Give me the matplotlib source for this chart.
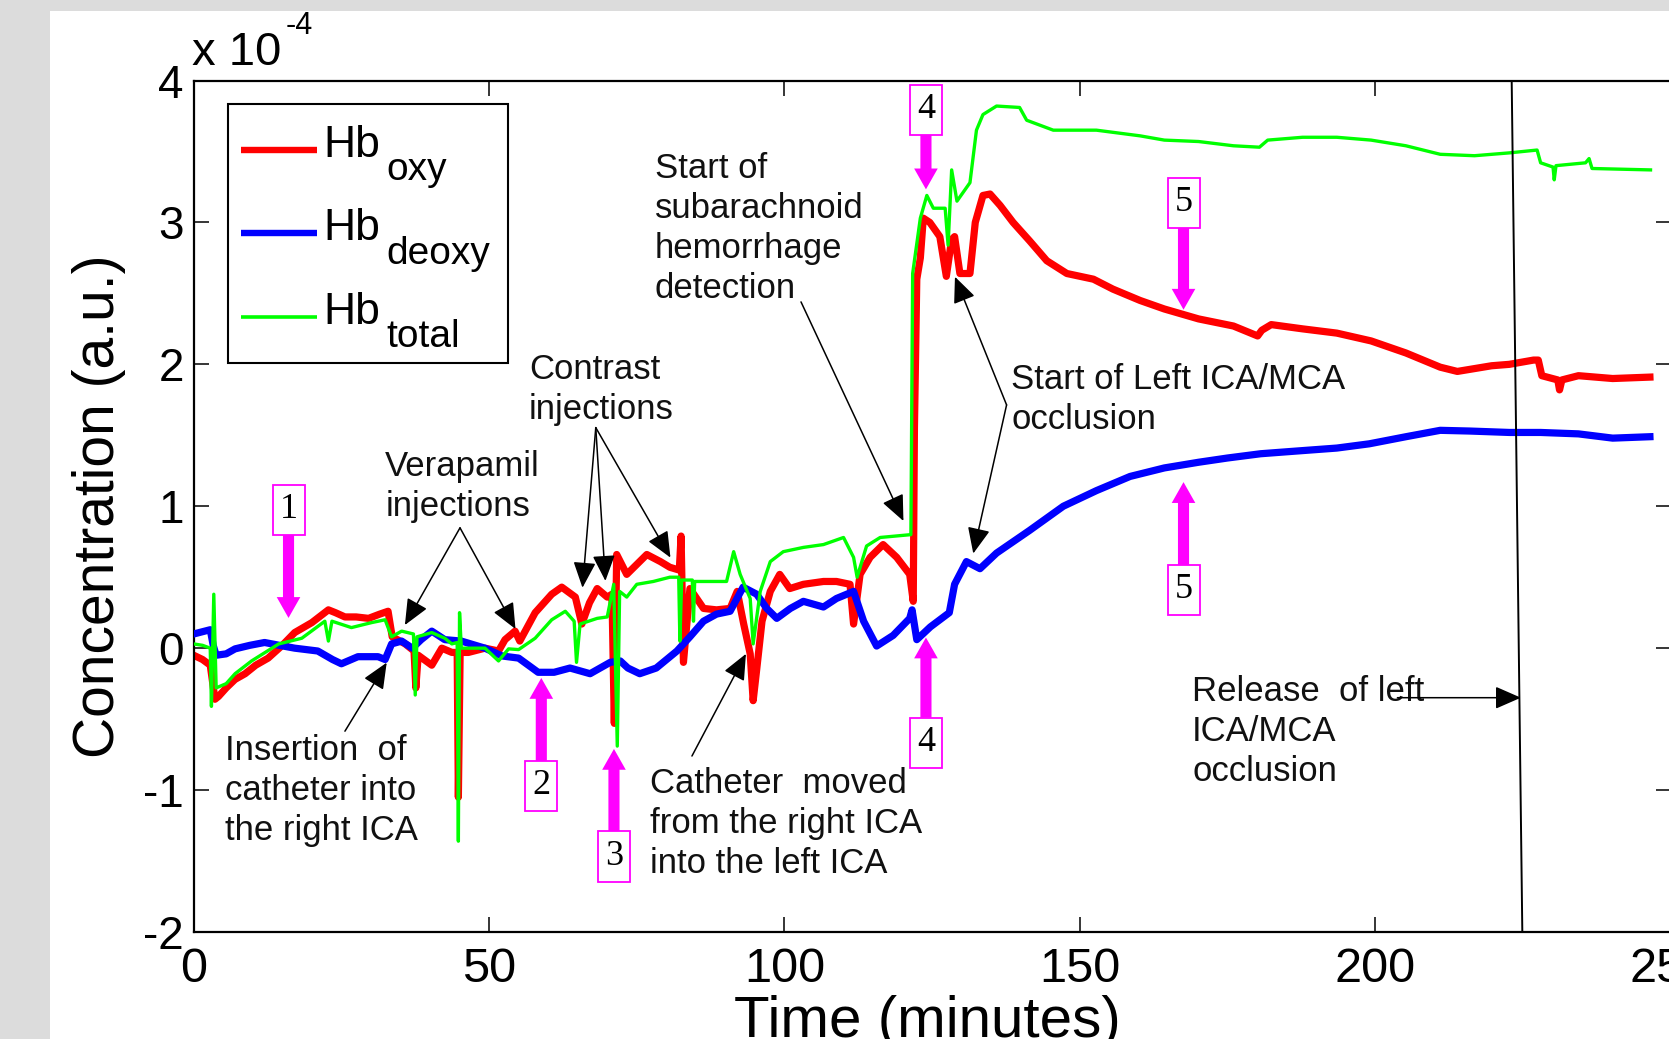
import matplotlib
matplotlib.use("Agg")
import matplotlib.pyplot as plt
import matplotlib.transforms as mtransforms
from matplotlib.patches import Rectangle
from matplotlib.lines import Line2D

plt.rcParams['font.family'] = ['Liberation Sans', 'DejaVu Sans']
plt.rcParams['axes.unicode_minus'] = False

# ---------------- data (values in units of 1e-4) ----------------
t_oxy = [0, 1.5, 2.8, 3.6, 4.2, 5.5, 7, 8.7, 10.5, 12.6, 15, 17.1, 20, 22.8, 24, 25.6,
         27.5, 29.6, 31.5, 32.9, 33.6, 35.8, 37.3, 37.6, 38, 40.3, 42, 43.7, 44.6, 44.8,
         45.1, 46.5, 49.3, 51.6, 52.7, 54.4, 55.2, 57.8, 60.6, 62.3, 64.6, 65.7, 67, 68.3,
         70, 70.8, 71.2, 71.6, 73.3, 75, 76.7, 79, 80.6, 82.2, 82.5, 82.9, 84, 86.3, 88.5,
         90.8, 92, 93.1, 94.2, 94.7, 95.3, 96.2, 97.6, 99.2, 100.9, 103.2, 106.6, 108.8,
         111.1, 111.7, 112.8, 114.5, 116.7, 119, 121.2, 121.8, 122.0, 122.4, 123, 123.5,
         124.6, 126.3, 127.4, 128.3, 128.8, 129.7, 131.4, 132.3, 133.6, 134.8, 136.5,
         138.7, 141.5, 144.4, 147.8, 152.3, 155.6, 160.2, 164.3, 170.1, 176, 180.1, 180.8,
         182.4, 187.7, 193.5, 199.3, 205.2, 211, 213.9, 219.7, 222.7, 226.8, 227.6, 228.2,
         230.9, 231.2, 231.6, 234.4, 240.2, 246.5]
hb_oxy = [-0.05, -0.08, -0.12, -0.36, -0.34, -0.28, -0.22, -0.18, -0.12, -0.07, 0.02, 0.11,
          0.18, 0.27, 0.25, 0.22, 0.22, 0.21, 0.24, 0.26, 0.08, 0.03, -0.02, -0.28, -0.05,
          -0.12, 0.0, -0.03, -0.03, -1.05, -0.03, -0.03, 0.0, -0.02, 0.06, 0.12, 0.05, 0.25,
          0.38, 0.43, 0.36, 0.17, 0.32, 0.42, 0.36, 0.38, -0.53, 0.66, 0.52, 0.59, 0.66, 0.61,
          0.57, 0.55, 0.79, -0.1, 0.42, 0.28, 0.27, 0.28, 0.40, 0.17, -0.04, -0.37, -0.15,
          0.19, 0.40, 0.52, 0.42, 0.45, 0.47, 0.47, 0.45, 0.17, 0.52, 0.64, 0.73, 0.64, 0.52,
          0.33, 1.55, 2.6, 2.75, 3.03, 3.0, 2.9, 2.62, 2.88, 2.9, 2.64, 2.64, 3.0, 3.19, 3.2,
          3.12, 3.0, 2.87, 2.73, 2.64, 2.6, 2.53, 2.45, 2.39, 2.32, 2.27, 2.20, 2.24, 2.28,
          2.25, 2.22, 2.165, 2.08, 1.98, 1.95, 1.99, 2.0, 2.03, 2.03, 1.92, 1.89, 1.82, 1.89,
          1.92, 1.90, 1.91]

t_deoxy = [0, 2.8, 3.3, 3.8, 5.5, 7, 9.5, 12, 14.5, 17.1, 21, 23.5, 25, 27.8, 31.2, 32.4,
           33.5, 35.2, 37, 38.5, 40.3, 42.5, 45.3, 49.3, 52.2, 55, 58.3, 61, 63.7, 67.1,
           70.5, 72.2, 73.5, 75.5, 78.3, 81.8, 84, 86.3, 88.5, 90.8, 93, 95.3, 97, 98.7,
           101, 103.2, 106.6, 108.8, 111.7, 113.4, 115.6, 118.4, 121.2, 121.6, 122.4, 124.7,
           127.9, 128.8, 130.8, 133.1, 135.9, 141.5, 147.2, 152.8, 158.5, 164.3, 170.1, 175,
           180.6, 187, 193.5, 199, 205.2, 211, 216, 222.7, 228, 234.4, 240.2, 246.5]
hb_deoxy = [0.10, 0.13, 0.02, -0.05, -0.04, -0.005, 0.02, 0.04, 0.02, 0.0, -0.02, -0.08,
            -0.11, -0.06, -0.06, -0.08, 0.03, 0.05, 0.0, 0.06, 0.12, 0.06, 0.05, 0.0, -0.055,
            -0.07, -0.17, -0.17, -0.14, -0.18, -0.10, -0.09, -0.14, -0.18, -0.14, -0.02, 0.08,
            0.19, 0.24, 0.26, 0.43, 0.38, 0.28, 0.21, 0.28, 0.33, 0.29, 0.35, 0.40, 0.19,
            0.015, 0.09, 0.21, 0.27, 0.06, 0.15, 0.25, 0.45, 0.61, 0.56, 0.67, 0.83, 1.0, 1.11,
            1.21, 1.27, 1.31, 1.34, 1.37, 1.39, 1.41, 1.44, 1.49, 1.535, 1.53, 1.52, 1.52,
            1.51, 1.48, 1.49]

t_total = [0, 1.5, 2.8, 3.0, 3.4, 3.8, 5.5, 7, 9.8, 14.4, 18.3, 22.2, 22.8, 23.4, 26.7,
           30.1, 32.4, 33.5, 35.2, 37.2, 37.5, 37.8, 40.3, 42.5, 43.7, 44.6, 44.8, 45.0,
           45.3, 49.3, 51.6, 53.3, 55, 57.8, 60.6, 62.9, 64.4, 64.8, 65.4, 68.3, 70, 71.1,
           71.7, 72.1, 73.3, 75, 77.8, 80.6, 82.1, 82.3, 82.6, 84.4, 84.6, 84.8, 87.4, 90.2,
           91.4, 92.5, 94.2, 94.7, 95.9, 97.6, 99.8, 103.2, 106.6, 110, 111.7, 112.3, 113.9,
           116.2, 121.4, 121.7, 123, 124.1, 125.2, 127.2, 127.7, 128.3, 129.2, 131.4, 132.5,
           133.6, 135.9, 139.8, 141, 145.5, 152.8, 160.2, 164.3, 170.1, 176, 180.4, 181.8,
           187.7, 193.5, 199.3, 205.2, 211, 216.8, 222.7, 227.4, 228, 230.1, 230.3, 230.6,
           235.6, 236.2, 236.7, 246.6]
hb_total = [0.03, 0.02, 0.0, -0.41, 0.38, -0.28, -0.25, -0.18, -0.09, 0.03, 0.07, 0.19, 0.05,
            0.19, 0.145, 0.18, 0.2, 0.08, 0.12, 0.1, -0.33, 0.08, 0.11, 0.07, 0.03, 0.04,
            -1.36, 0.25, 0.0, 0.0, -0.09, -0.005, -0.01, 0.07, 0.2, 0.26, 0.19, -0.1, 0.17,
            0.21, 0.22, 0.45, -0.69, 0.4, 0.36, 0.45, 0.47, 0.50, 0.50, 0.05, 0.48, 0.48, 0.19,
            0.47, 0.47, 0.47, 0.68, 0.52, 0.35, 0.03, 0.4, 0.61, 0.68, 0.71, 0.73, 0.78, 0.64,
            0.5, 0.72, 0.78, 0.8, 2.64, 3.03, 3.19, 3.1, 3.1, 2.84, 3.37, 3.15, 3.28, 3.65,
            3.76, 3.82, 3.81, 3.72, 3.65, 3.65, 3.61, 3.58, 3.57, 3.54, 3.53, 3.58, 3.60, 3.60,
            3.58, 3.54, 3.48, 3.47, 3.49, 3.51, 3.42, 3.39, 3.30, 3.40, 3.42, 3.45, 3.38, 3.37]

series_names = ['oxy', 'deoxy', 'total']
series_colors = ['#ff0000', '#0000ff', '#00ff00']
x_ticks = [0, 50, 100, 150, 200, 250]
y_ticks = [-2, -1, 0, 1, 2, 3, 4]

# numbered markers: (label, t, box centre v, arrow tip v)
markers = [('1', 16.05, 0.974, 0.213), ('2', 58.84, -0.971, -0.21),
           ('3', 71.14, -1.468, -0.71), ('4', 123.95, 3.793, 3.233),
           ('4', 123.95, -0.666, 0.075), ('5', 167.55, 3.14, 2.385),
           ('5', 167.55, 0.41, 1.17)]

# text annotations: (t, v of first baseline, lines)
notes = [(5.23, -0.789, ['Insertion  of', 'catheter into', 'the right ICA']),
         (32.43, 1.214, ['Verapamil', 'injections']),
         (56.75, 1.896, ['Contrast', 'injections']),
         (78.01, 3.314, ['Start of', 'subarachnoid', 'hemorrhage', 'detection']),
         (138.37, 1.829, ['Start of Left ICA/MCA', 'occlusion']),
         (77.29, -1.022, ['Catheter  moved', 'from the right ICA', 'into the left ICA']),
         (168.99, -0.369, ['Release  of left', 'ICA/MCA', 'occlusion'])]

# black pointer arrows: (tail, tip)
pointers = [((25.6, -0.585), (32.67, -0.102)),
            ((45.08, 0.848), (35.75, 0.163)), ((45.08, 0.848), (54.47, 0.135)),
            ((68.06, 1.554), (65.81, 0.426)), ((68.06, 1.554), (69.69, 0.474)),
            ((68.06, 1.554), (80.7, 0.638)),
            ((102.8, 2.44), (120.14, 0.896)),
            ((137.6, 1.714), (128.86, 2.617)), ((137.6, 1.714), (131.96, 0.667)),
            ((84.34, -0.76), (93.48, -0.04)),
            ((203.76, -0.349), (224.66, -0.349))]
release_line_t = [223.1, 224.9]
release_line_v = [4, -2]

# ---------------- figure ----------------
W, H = 1669, 1039
fig = plt.figure(figsize=(W / 100, H / 100), dpi=100)
fig.patch.set_facecolor('#dcdcdc')
fig.add_artist(Rectangle((50 / W, 0), 1 - 50 / W, 1 - 10.6 / H, transform=fig.transFigure,
                         facecolor='white', edgecolor='none', zorder=-5))

ax_l, ax_r, ax_t, ax_b = 193.7, 1670.6, 80.5, 932.0
ax = fig.add_axes([ax_l / W, 1 - ax_b / H, (ax_r - ax_l) / W, (ax_b - ax_t) / H])
ax.set_facecolor('white')
ax.set_xlim(0, 250)
ax.set_ylim(-2, 4)

ax.plot(t_oxy, hb_oxy, color=series_colors[0], lw=5.2, zorder=2)
ax.plot(t_deoxy, hb_deoxy, color=series_colors[1], lw=5.2, zorder=3)
ax.plot(t_total, hb_total, color=series_colors[2], lw=2.4, zorder=4)

ax.set_xticks(x_ticks)
ax.set_yticks(y_ticks)
ax.tick_params(direction='in', length=10.5, width=1.1, top=True, right=True, colors='black')
ax.tick_params(axis='x', labelsize=35, pad=10.5)
ax.tick_params(axis='y', labelsize=33, pad=7)
for s in ax.spines.values():
    s.set_linewidth(1.6)

ax.set_xlabel('Time (minutes)', fontsize=42)
ax.xaxis.set_label_coords(0.497, -0.074)
ax.set_ylabel('Concentration (a.u.)', fontsize=41, va='center')
ax.yaxis.set_label_coords(-0.0641, 0.5)

# exponent
fig.text(192 / W, 1 - 65 / H, 'x 10', fontsize=34, va='baseline', ha='left')
fig.text(286 / W, 1 - 34 / H, '-4', fontsize=22, va='baseline', ha='left')

# release line
ax.plot(release_line_t, release_line_v, color='black', lw=1.4, zorder=5)

# annotations text
for (tx, ty, lines) in notes:
    for i, line in enumerate(lines):
        tr = mtransforms.offset_copy(ax.transData, fig=fig, x=0, y=-i * 40, units='dots')
        ax.text(tx, ty, line, transform=tr, fontsize=25, va='baseline', ha='left',
                color='#111111', zorder=6)

for tail, tip in pointers:
    ax.annotate('', xy=tip, xytext=tail,
                arrowprops=dict(arrowstyle='-|>,head_length=16,head_width=7',
                                mutation_scale=1, lw=1.1, color='black',
                                shrinkA=0, shrinkB=0), zorder=6)

# numbered magenta markers
bw, bh = 32 / 5.908, 50 / 141.9
for lab, tc, vc, vtip in markers:
    base = vc - bh / 2 if vtip < vc else vc + bh / 2
    ax.annotate('', xy=(tc, vtip), xytext=(tc, base),
                arrowprops=dict(arrowstyle='simple,head_length=15,head_width=17,tail_width=8',
                                mutation_scale=1, lw=0, color='#ff00ff',
                                shrinkA=0, shrinkB=0), zorder=7)
    ax.add_patch(Rectangle((tc - bw / 2, vc - bh / 2), bw, bh, facecolor='white',
                           edgecolor='#ff00ff', lw=1.3, zorder=8, clip_on=False))
    ax.text(tc, vc, lab, ha='center', va='center', fontsize=26,
            family=['Liberation Serif'], zorder=9, clip_on=False)

# legend (drawn as a boxed key)
fig.add_artist(Rectangle((227.7 / W, 1 - 363.3 / H), (507.8 - 227.7) / W, (363.3 - 104) / H,
                         transform=fig.transFigure, facecolor='white', edgecolor='black',
                         lw=1.5, zorder=10))
leg_lw = [4.6, 4.6, 2.6]
for i, (name, col) in enumerate(zip(series_names, series_colors)):
    yl = 150 + i * 83.4
    fig.add_artist(Line2D([241 / W, 317 / W], [1 - yl / H, 1 - yl / H], transform=fig.transFigure,
                          color=col, lw=leg_lw[i], solid_capstyle='butt', zorder=11))
    yb = 157 + i * 83.5
    fig.text(323.4 / W, 1 - yb / H, 'Hb', fontsize=32, va='baseline', ha='left', zorder=12)
    fig.text(386.5 / W, 1 - (yb + 23) / H, name, fontsize=28, va='baseline', ha='left', zorder=12)

fig.savefig('out.png', dpi=100, facecolor=fig.get_facecolor())
